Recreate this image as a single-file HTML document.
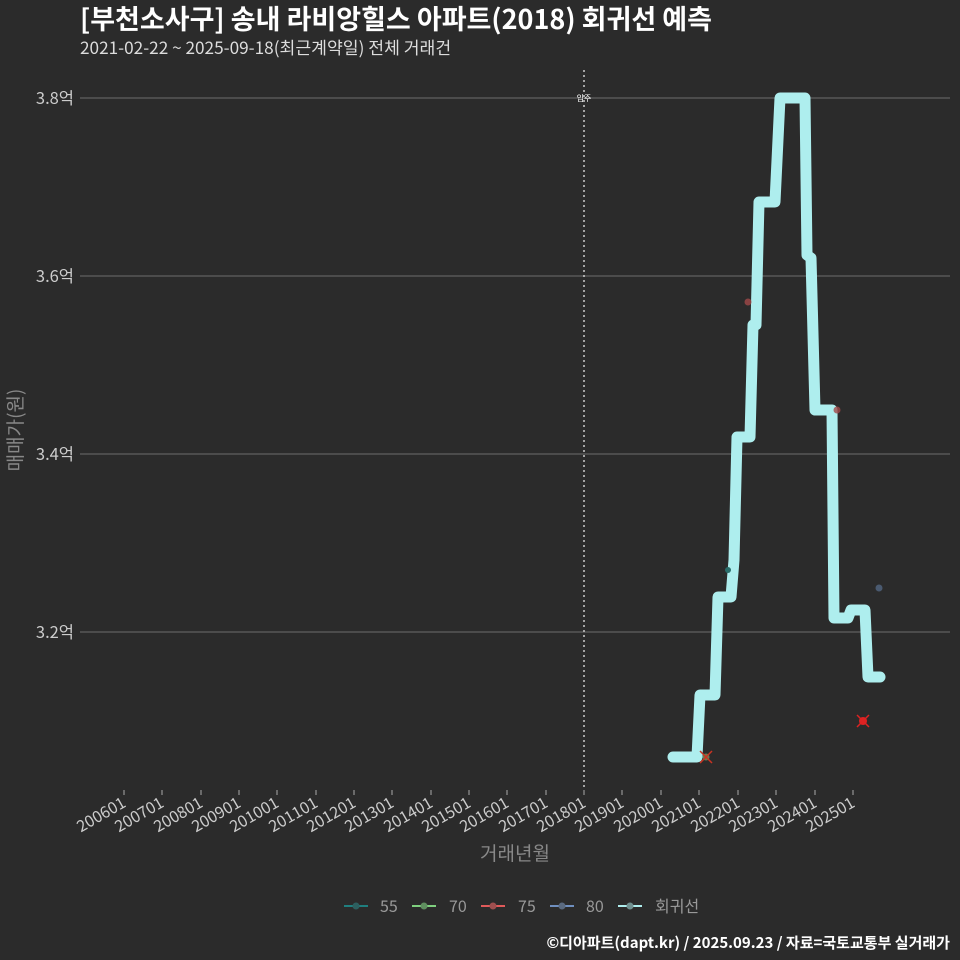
<!DOCTYPE html>
<html><head><meta charset="utf-8"><style>
html,body{margin:0;padding:0;background:#2b2b2b;}
svg{display:block;font-family:"Noto Sans CJK KR","Liberation Sans",sans-serif;}
</style></head><body>
<svg width="960" height="960" viewBox="0 0 960 960" xmlns="http://www.w3.org/2000/svg">
<rect width="960" height="960" fill="#2b2b2b"/>
<text x="80" y="29" font-size="27" font-weight="bold" fill="#ffffff">[부천소사구] 송내 라비앙힐스 아파트(2018) 회귀선 예측</text>
<text x="80" y="54" font-size="17.2" fill="#dddddd">2021-02-22 ~ 2025-09-18(최근계약일) 전체 거래건</text>
<g stroke="#6e6e6e" stroke-width="1">
<line x1="80" y1="98" x2="950" y2="98"/><line x1="80" y1="276" x2="950" y2="276"/>
<line x1="80" y1="454" x2="950" y2="454"/><line x1="80" y1="632" x2="950" y2="632"/>
</g>
<g font-size="16.5" fill="#cccccc" text-anchor="end">
<text x="74" y="104">3.8억</text><text x="74" y="282">3.6억</text><text x="74" y="460">3.4억</text><text x="74" y="638">3.2억</text>
</g>
<text transform="translate(22,430) rotate(-90)" font-size="19" fill="#888888" text-anchor="middle">매매가(원)</text>
<line x1="584" y1="70" x2="584" y2="790" stroke="#cccccc" stroke-width="1.5" stroke-dasharray="2,3"/>
<text x="584" y="101" font-size="8" fill="#ffffff" text-anchor="middle">입주</text>
<g stroke="#aaaaaa" stroke-width="1">
<line x1="124" y1="790" x2="124" y2="795"/><line x1="162" y1="790" x2="162" y2="795"/><line x1="201" y1="790" x2="201" y2="795"/><line x1="239" y1="790" x2="239" y2="795"/><line x1="277" y1="790" x2="277" y2="795"/><line x1="316" y1="790" x2="316" y2="795"/><line x1="354" y1="790" x2="354" y2="795"/><line x1="392" y1="790" x2="392" y2="795"/><line x1="431" y1="790" x2="431" y2="795"/><line x1="469" y1="790" x2="469" y2="795"/><line x1="507" y1="790" x2="507" y2="795"/><line x1="546" y1="790" x2="546" y2="795"/><line x1="584" y1="790" x2="584" y2="795"/><line x1="622" y1="790" x2="622" y2="795"/><line x1="661" y1="790" x2="661" y2="795"/><line x1="699" y1="790" x2="699" y2="795"/><line x1="738" y1="790" x2="738" y2="795"/><line x1="776" y1="790" x2="776" y2="795"/><line x1="815" y1="790" x2="815" y2="795"/><line x1="853" y1="790" x2="853" y2="795"/>
</g>
<g font-size="16" fill="#cccccc" text-anchor="end">
<text transform="translate(127,806) rotate(-30)">200601</text><text transform="translate(165,806) rotate(-30)">200701</text><text transform="translate(204,806) rotate(-30)">200801</text><text transform="translate(242,806) rotate(-30)">200901</text><text transform="translate(280,806) rotate(-30)">201001</text><text transform="translate(319,806) rotate(-30)">201101</text><text transform="translate(357,806) rotate(-30)">201201</text><text transform="translate(395,806) rotate(-30)">201301</text><text transform="translate(434,806) rotate(-30)">201401</text><text transform="translate(472,806) rotate(-30)">201501</text><text transform="translate(510,806) rotate(-30)">201601</text><text transform="translate(549,806) rotate(-30)">201701</text><text transform="translate(587,806) rotate(-30)">201801</text><text transform="translate(625,806) rotate(-30)">201901</text><text transform="translate(664,806) rotate(-30)">202001</text><text transform="translate(702,806) rotate(-30)">202101</text><text transform="translate(741,806) rotate(-30)">202201</text><text transform="translate(779,806) rotate(-30)">202301</text><text transform="translate(818,806) rotate(-30)">202401</text><text transform="translate(856,806) rotate(-30)">202501</text>
</g>
<text x="515" y="860" font-size="19" fill="#888888" text-anchor="middle">거래년월</text>
<polyline fill="none" stroke="#aeeeee" stroke-width="11" stroke-linejoin="round" stroke-linecap="round"
points="673,757 697,757 700,695 715,695 718,597 731,597 734,560 737,437 750,437 753,325 756,325 759,202 775,202 780,98 805,98 807,255 811,258 815,410 832,410 834,618 848,618 851,610 865,610 868,677 880,677"/>
<g>
<circle cx="748" cy="302" r="3.5" fill="#a04848" opacity="0.8"/>
<circle cx="837" cy="410" r="3.5" fill="#a04848" opacity="0.8"/>
<circle cx="879" cy="588" r="3.5" fill="#4a5a70"/>
<circle cx="728" cy="570" r="3" fill="#2a6d6a"/>
<circle cx="863" cy="721" r="4" fill="#dd2222"/>
<path d="M857,715 L869,727 M869,715 L857,727" stroke="#dd2222" stroke-width="1.5"/>
<circle cx="706" cy="757" r="3.5" fill="#6a7a50"/>
<path d="M700,751 L712,763 M712,751 L700,763" stroke="#cc3322" stroke-width="1.5"/>
</g>
<g font-size="16" fill="#999999">
<line x1="344" y1="906" x2="368" y2="906" stroke="#1f7f7f" stroke-width="2"/><circle cx="356" cy="906" r="3.5" fill="#2d5f5f"/><text x="380" y="912">55</text>
<line x1="412" y1="906" x2="436" y2="906" stroke="#7fd07f" stroke-width="2"/><circle cx="424" cy="906" r="3.5" fill="#5f8f5f"/><text x="449" y="912">70</text>
<line x1="481" y1="906" x2="505" y2="906" stroke="#e05a5a" stroke-width="2"/><circle cx="493" cy="906" r="3.5" fill="#9f4f4f"/><text x="518" y="912">75</text>
<line x1="550" y1="906" x2="574" y2="906" stroke="#6f8fbf" stroke-width="2"/><circle cx="562" cy="906" r="3.5" fill="#5a6a80"/><text x="586" y="912">80</text>
<line x1="618" y1="906" x2="642" y2="906" stroke="#aeeeee" stroke-width="2"/><circle cx="630" cy="906" r="3.5" fill="#6f8f8f"/><text x="655" y="912">회귀선</text>
</g>
<text x="950" y="948" font-size="15" font-weight="bold" fill="#ffffff" text-anchor="end">©디아파트(dapt.kr) / 2025.09.23 / 자료=국토교통부 실거래가</text>
</svg>
</body></html>
